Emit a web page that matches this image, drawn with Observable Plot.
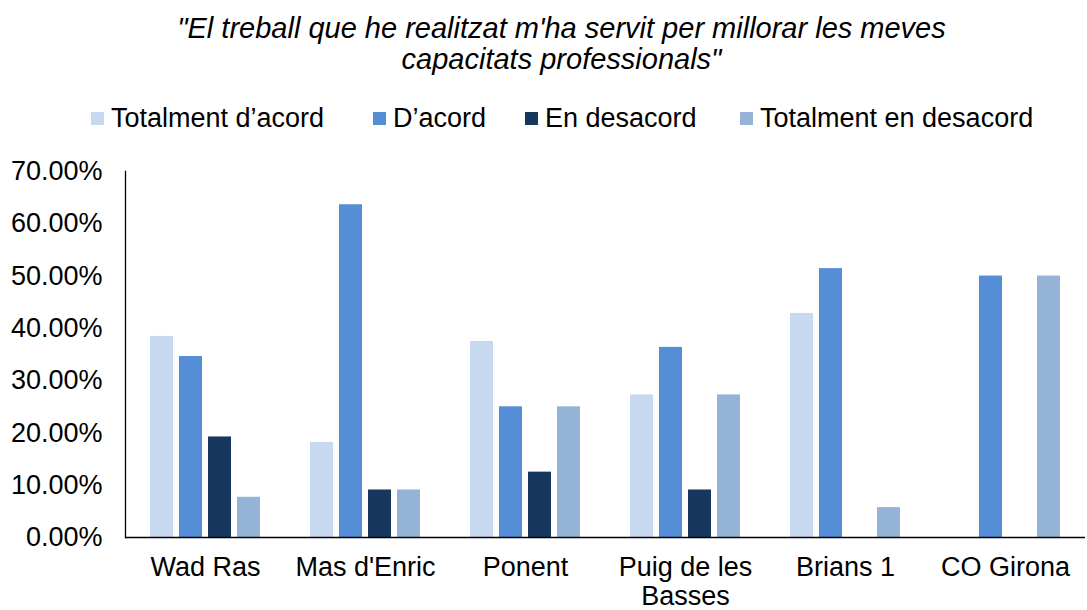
<!DOCTYPE html>
<html><head><meta charset="utf-8">
<script src="https://cdn.jsdelivr.net/npm/d3@7"></script>
<script src="https://cdn.jsdelivr.net/npm/@observablehq/plot@0.6"></script>
<style>
body{margin:0;background:#fff;font-family:"Liberation Sans",Arial,sans-serif;color:#000;}
#wrap{width:1087px;height:610px;position:relative;overflow:hidden;background:#fff}
#header{height:150px;position:relative}
#title{position:absolute;left:36px;right:0;top:13px;text-align:center;font-style:italic;font-size:29px;line-height:31px;}
#legend{position:absolute;left:0;top:105px;width:1087px;height:28px;font-size:27px;line-height:27px;white-space:nowrap}
.item{position:absolute;top:0;display:flex;align-items:center}
.sw{width:13px;height:13px;margin-right:7px;display:inline-block}
#chart svg{display:block}
</style></head><body>
<div id="wrap"><div id="header"><div id="title"></div><div id="legend"></div></div><div id="chart"></div></div>
<script>
const titleLines = ["\"El treball que he realitzat m'ha servit per millorar les meves", "capacitats professionals\""];
const categories = ["Wad Ras", "Mas d'Enric", "Ponent", "Puig de les\nBasses", "Brians 1", "CO Girona"];
const series = ["Totalment d’acord", "D’acord", "En desacord", "Totalment en desacord"];
const colors = ["#C6D9F1", "#558ED5", "#17375E", "#95B3D7"];
const totalmentAcord =    [38.46, 18.18, 37.5, 27.27, 42.86, 0];
const acord =             [34.62, 63.64, 25.0, 36.36, 51.43, 50];
const desacord =          [19.23,  9.09, 12.5,  9.09,  0,     0];
const totalmentDesacord = [ 7.69,  9.09, 25.0, 27.27,  5.71, 50];
const yTicks = [0, 10, 20, 30, 40, 50, 60, 70];
const legendLeft = [91, 373, 525, 740];

const seriesValues = [totalmentAcord, acord, desacord, totalmentDesacord];
const data = [];
categories.forEach((c, i) => series.forEach((s, j) => data.push({category: c, series: s, value: seriesValues[j][i]})));

document.getElementById("title").innerHTML = titleLines.map(t => `<div>${t}</div>`).join("");
document.getElementById("legend").innerHTML = series.map((s, j) =>
  `<div class="item" style="left:${legendLeft[j]}px"><span class="sw" style="background:${colors[j]}"></span><span>${s}</span></div>`).join("");

const chart = Plot.plot({
  width: 1087,
  height: 460,
  marginLeft: 123,
  marginRight: 0,
  marginTop: 21,
  marginBottom: 73,
  style: {fontFamily: "'Liberation Sans', Arial, sans-serif", fontSize: "27px", color: "#000", background: "#fff"},
  fx: {domain: categories, padding: 0, label: null},
  x: {domain: series, paddingInner: 0.22, paddingOuter: 0.85, axis: null},
  y: {domain: [0, 70], label: null},
  color: {domain: series, range: colors},
  marks: [
    Plot.barY(data, {fx: "category", x: "series", y: "value", fill: "series"}),
    Plot.ruleY([0], {stroke: "#000", strokeWidth: 1.3}),
    Plot.frame({anchor: "left", facetAnchor: "left", stroke: "#000", strokeWidth: 1.3}),
    Plot.axisY(yTicks, {tickSize: 0, tickPadding: 23, fontSize: 27, tickFormat: d => d.toFixed(2) + "%", label: null}),
    Plot.axisFx({anchor: "bottom", tickSize: 0, tickPadding: 19, fontSize: 27, lineHeight: 1.04, label: null})
  ]
});
document.getElementById("chart").appendChild(chart);
</script>
</body></html>
